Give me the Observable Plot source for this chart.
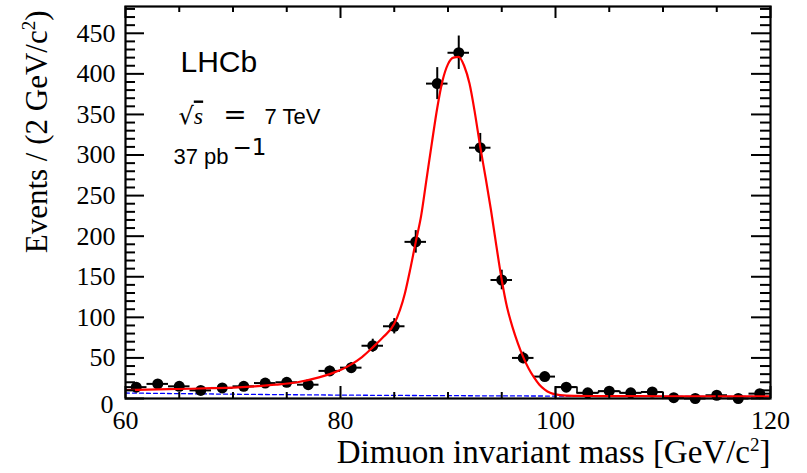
<!DOCTYPE html>
<html><head><meta charset="utf-8">
<script src="https://cdn.jsdelivr.net/npm/d3@7"></script>
<script src="https://cdn.jsdelivr.net/npm/@observablehq/plot@0.6"></script>
<style>html,body{margin:0;padding:0;background:#fff;}</style>
</head><body><div id="chart"></div>
<script>
// Data (2 GeV bins)
const massBins = [61,63,65,67,69,71,73,75,77,79,81,83,85,87,89,91,93,95,97,99,101,103,105,107,109,111,113,115,117,119];
const events   = [14,18,15,10,13,15,19,20,17,34,38,65,89,193,388,426,309,146,50,27,14,7,9,7,8,1,0,4,0,6];
// Fit curve (signal + background)
const fitMass  = [60,62,64,66,68,70,72,74,76,78,79,80,81,82,83,84,85,86,86.5,87,87.5,88,88.5,89,89.5,90,90.5,91,91.5,92,92.5,93,93.5,94,94.5,95,95.5,96,96.5,97,97.5,98,98.5,99,99.5,100,101,102,104,106,110,115,120];
const fitValue = [10.5,11,11.5,12,12.7,13.5,15,17,20,26,30,35,42,51,63,76,92,130,160,193,225,270,315,358,392,412,420,421,410,388,352,310,272,232,188,146,112,88,68,51,37,26,17,11,7,5,3.6,3.3,3.0,2.9,2.8,2.6,2.5];
// Background component (blue dashed)
const bkgMass  = [60,70,80,90,100,110,120];
const bkgValue = [6.8,5.3,4.2,3.5,3.0,2.7,2.4];
// Step outline bins (bin low edges)
const stepEdges = [100,102,104,106,108];
// Ticks
const xLabelTicks = [60,80,100,120];
const yLabelTicks = [50,100,150,200,250,300,350,400,450];
const xTitle = "Dimuon invariant mass [GeV/c²]";
const yTitle = "Events / (2 GeV/c²)";

const W = 807, H = 473, ML = 125, MR = 37, MT = 6, MB = 75;
const PW = W - ML - MR, PH = H - MT - MB;

const points = massBins.map((m, i) => ({m, n: events[i]}));
const fitPts = fitMass.map((m, i) => ({m, v: fitValue[i]}));
const bkgPts = bkgMass.map((m, i) => ({m, v: bkgValue[i]}));
const stepPts = [{m: stepEdges[0], v: 0}]
  .concat(stepEdges.map(e => ({m: e, v: events[massBins.indexOf(e + 1)]})))
  .concat([{m: stepEdges[stepEdges.length - 1] + 2, v: 0}]);

const xMajor = d3.range(60, 121, 20);
const xMinor = d3.range(60, 121, 5).filter(d => d % 20 !== 0);
const yMajor = d3.range(0, 481, 50);
const yMinor = d3.range(0, 481, 10).filter(d => d % 50 !== 0);

const tk = {stroke: "black", strokeWidth: 2};
const sans = "'Liberation Sans', Arial, sans-serif";

const plot = Plot.plot({
  width: W, height: H,
  marginLeft: ML, marginRight: MR, marginTop: MT, marginBottom: MB,
  style: {fontFamily: "'Liberation Serif', 'DejaVu Serif', serif", fontSize: "26px", background: "white", color: "black", overflow: "visible"},
  x: {domain: [60, 120]},
  y: {domain: [0, 483]},
  marks: [
    Plot.line(bkgPts, {x: "m", y: "v", stroke: "#0000ff", strokeWidth: 1.3, strokeDasharray: "4,3", curve: "monotone-x", clip: true}),
    Plot.line(stepPts, {x: "m", y: "v", stroke: "black", strokeWidth: 1.6, curve: "step-after"}),
    Plot.ruleX(points.filter(d => d.n > 0), {x: "m", y1: d => Math.max(0, d.n - Math.sqrt(d.n)), y2: d => d.n + Math.sqrt(d.n), stroke: "black", strokeWidth: 2}),
    Plot.ruleY(points, {y: "n", x1: d => d.m - 1, x2: d => d.m + 1, stroke: "black", strokeWidth: 2}),
    Plot.dot(points, {x: "m", y: "n", r: 5.5, fill: "black", stroke: "none"}),
    Plot.line(fitPts, {x: "m", y: "v", stroke: "#ff0000", strokeWidth: 2.2, curve: "monotone-x", clip: true}),
    // ticks inside the frame (mirrored)
    Plot.tickY(yMajor, {y: d => d, insetRight: PW - 19, ...tk}),
    Plot.tickY(yMinor, {y: d => d, insetRight: PW - 10, ...tk}),
    Plot.tickY(yMajor, {y: d => d, insetLeft: PW - 19, ...tk}),
    Plot.tickY(yMinor, {y: d => d, insetLeft: PW - 10, ...tk}),
    Plot.tickX(xMajor, {x: d => d, insetTop: PH - 12, ...tk}),
    Plot.tickX(xMinor, {x: d => d, insetTop: PH - 6, ...tk}),
    Plot.tickX(xMajor, {x: d => d, insetBottom: PH - 12, ...tk}),
    Plot.tickX(xMinor, {x: d => d, insetBottom: PH - 6, ...tk}),
    Plot.frame({stroke: "black", strokeWidth: 2.2}),
    // tick labels
    Plot.axisX({ticks: xLabelTicks, tickSize: 0, tickPadding: 12, label: null, fontSize: 26}),
    Plot.axisY({ticks: yLabelTicks, tickSize: 0, tickPadding: 10, label: null, fontSize: 26}),
    Plot.axisY({ticks: [0], tickSize: 0, tickPadding: 12, label: null, fontSize: 26, dy: 6}),
    // titles
    Plot.text([xTitle], {frameAnchor: "bottom-right", textAnchor: "end", lineAnchor: "bottom", dy: 64, fontSize: 33}),
    Plot.text([yTitle], {frameAnchor: "top-left", textAnchor: "end", lineAnchor: "middle", rotate: -90, dx: -88, dy: 4, fontSize: 31}),
    // annotations
    Plot.text(["LHCb"], {frameAnchor: "top-left", textAnchor: "start", lineAnchor: "bottom", dx: 55, dy: 65, fontSize: 30, fontFamily: sans}),
    Plot.text(["√s = 7 TeV"], {frameAnchor: "top-left", textAnchor: "start", lineAnchor: "bottom", dx: 53, dy: 117, fontSize: 22, fontFamily: sans}),
    Plot.text(["37 pb-1"], {frameAnchor: "top-left", textAnchor: "start", lineAnchor: "bottom", dx: 48, dy: 157, fontSize: 22, fontFamily: sans})
  ]
});

const NS = "http://www.w3.org/2000/svg";
function ts(parent, txt, attrs) {
  const t = document.createElementNS(NS, "tspan");
  t.textContent = txt;
  for (const k in attrs) t.setAttribute(k, attrs[k]);
  parent.appendChild(t);
  return t;
}
plot.querySelectorAll("text").forEach(t => {
  const c = t.textContent;
  if (c === "√s = 7 TeV") {
    t.textContent = "";
    ts(t, "√", {"font-family": "'DejaVu Serif', serif", "font-size": 24});
    ts(t, "s", {"font-family": "'Liberation Serif', serif", "font-style": "italic", "font-size": 24, "text-decoration": "overline"});
    ts(t, "=", {"dx": 20, "font-family": "'DejaVu Serif', serif", "font-size": 28});
    ts(t, "7 TeV", {"dx": 18});
  } else if (c === "37 pb-1") {
    t.textContent = "";
    ts(t, "37 pb", {});
    ts(t, "−1", {"dx": 4, "dy": -9, "font-family": "'DejaVu Sans', sans-serif", "font-size": 23});
  } else if (c.indexOf("GeV/c²") >= 0) {
    const parts = c.split("²");
    t.textContent = "";
    ts(t, parts[0], {});
    ts(t, "2", {"dy": -12, "font-size": 19});
    ts(t, parts[1], {"dy": 12});
  }
});
document.getElementById("chart").appendChild(plot);
</script>
</body></html>
